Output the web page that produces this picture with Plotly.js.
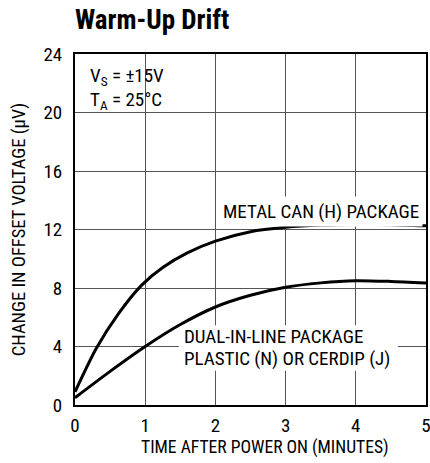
<!DOCTYPE html>
<html>
<head>
<meta charset="utf-8">
<script src="https://cdn.plot.ly/plotly-3.0.1.min.js"></script>
<style>html,body{margin:0;padding:0;background:#fff;}#chart{width:430px;height:463px;}</style>
</head>
<body>
<div id="chart"></div>
<script>
const metalX = [0, 0.3, 0.62, 0.95, 1.25, 1.6, 2, 2.5, 3, 3.5, 4, 4.5, 5];
const metalY = [0.9, 3.85, 6.25, 8.2, 9.4, 10.4, 11.2, 11.85, 12.15, 12.3, 12.35, 12.33, 12.25];
const dipX = [0, 0.5, 1, 1.5, 2, 2.5, 3, 3.5, 4, 4.5, 5];
const dipY = [0.5, 2.3, 4, 5.5, 6.7, 7.5, 8.05, 8.35, 8.5, 8.45, 8.35];
const xTicks = [0, 1, 2, 3, 4, 5];
const yTicks = [0, 4, 8, 12, 16, 20, 24];
const dipLabel = ['DUAL-IN-LINE PACKAGE', 'PLASTIC (N) OR CERDIP (J)'];

const FONT = "'Liberation Sans Narrow', 'Roboto Condensed', 'Arial Narrow', Roboto, sans-serif";
const lineStyle = {color: '#000', width: 3, shape: 'spline', smoothing: 0.7};

const traces = [
  {x: metalX, y: metalY, mode: 'lines', line: lineStyle, hoverinfo: 'skip'},
  {x: dipX, y: dipY, mode: 'lines', line: lineStyle, hoverinfo: 'skip'}
];

const annFont = {size: 19, family: FONT, color: '#000'};
const layout = {
  width: 430, height: 463,
  margin: {l: 75, r: 4, t: 54, b: 58},
  paper_bgcolor: '#fff', plot_bgcolor: '#fff',
  showlegend: false,
  font: {family: FONT, color: '#000', size: 18},
  title: {text: '<b>Warm-Up Drift</b>', font: {family: FONT, size: 27, color: '#000'},
          x: 0, xref: 'paper', xanchor: 'left', y: 1, yref: 'container', yanchor: 'top', pad: {t: 10}},
  xaxis: {
    range: [0, 5], tickvals: xTicks, ticktext: xTicks.map(String),
    showgrid: true, gridcolor: '#555', gridwidth: 1,
    showline: true, linecolor: '#000', linewidth: 2, mirror: true,
    ticks: '', zeroline: false, tickfont: {size: 19, family: FONT},
    ticklabeloverflow: 'allow', ticklabelstandoff: 2
  },
  yaxis: {
    range: [0, 24], tickvals: yTicks, ticktext: yTicks.map(String),
    showgrid: true, gridcolor: '#555', gridwidth: 1,
    showline: true, linecolor: '#000', linewidth: 2, mirror: true,
    ticks: '', zeroline: false, tickfont: {size: 19, family: FONT}, ticklabelstandoff: 7,
    title: {text: 'CHANGE IN OFFSET VOLTAGE (µV)', font: {size: 18.5, family: FONT}, standoff: 13}
  },
  shapes: [
    // white backing behind the two-line package label (hides gridlines, below curves)
    {type: 'rect', xref: 'x', yref: 'y', x0: 1.48, x1: 4.6, y0: 2.35, y1: 5.45,
     fillcolor: '#fff', line: {width: 0}, layer: 'between'}
  ],
  annotations: [
    {x: 0.541, y: -0.122, xref: 'paper', yref: 'paper', xanchor: 'center', yanchor: 'middle', showarrow: false,
     text: 'TIME AFTER POWER ON (MINUTES)', font: {size: 17.6, family: FONT, color: '#000'}},
    {x: 0.185, y: 22.45, xref: 'x', yref: 'y', xanchor: 'left', yanchor: 'middle', showarrow: false,
     text: 'V<sub>S</sub> = ±15V', font: annFont},
    {x: 0.185, y: 20.85, xref: 'x', yref: 'y', xanchor: 'left', yanchor: 'middle', showarrow: false,
     text: 'T<sub>A</sub> = 25°C', font: annFont},
    {x: 2.05, y: 13.26, xref: 'x', yref: 'y', xanchor: 'left', yanchor: 'middle', showarrow: false,
     text: 'METAL CAN (H) PACKAGE', font: annFont, bgcolor: '#fff', borderpad: 3},
    {x: 1.53, y: 4.65, xref: 'x', yref: 'y', xanchor: 'left', yanchor: 'middle', showarrow: false,
     text: dipLabel[0], font: annFont},
    {x: 1.53, y: 3.2, xref: 'x', yref: 'y', xanchor: 'left', yanchor: 'middle', showarrow: false,
     text: dipLabel[1], font: annFont}
  ]
};

Plotly.newPlot('chart', traces, layout, {displayModeBar: false, staticPlot: true});
</script>
</body>
</html>
